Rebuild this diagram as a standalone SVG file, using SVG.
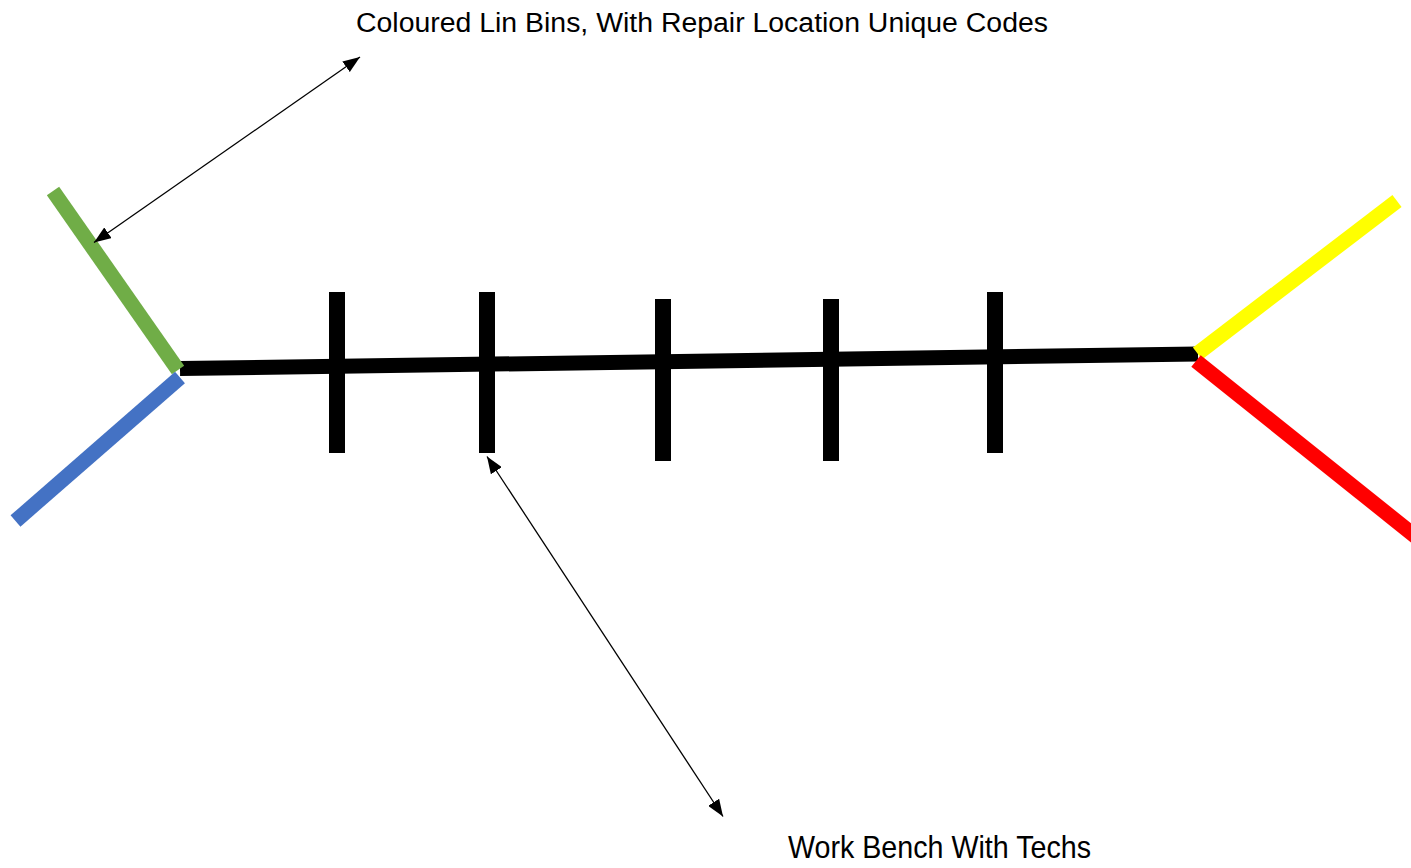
<svg xmlns="http://www.w3.org/2000/svg" width="1411" height="868" viewBox="0 0 1411 868">
  <defs>
    <marker id="ah" viewBox="0 0 10 10" refX="10" refY="5" markerWidth="17" markerHeight="13" markerUnits="userSpaceOnUse" orient="auto-start-reverse" preserveAspectRatio="none">
      <path d="M0,0 L10,5 L0,10 z" fill="#000"/>
    </marker>
    <style>
      .bar { stroke-width: 15; stroke-linecap: butt; fill: none; }
      .tick { stroke: #000; stroke-width: 16; }
      .conn { stroke: #000; stroke-width: 1.3; fill: none; marker-start: url(#ah); marker-end: url(#ah); }
      .lbl { font-family: "Liberation Sans", Arial, sans-serif; fill: #000; }
    </style>
  </defs>
  <rect width="1411" height="868" fill="#fff"/>
  <g id="bench">
    <line class="bar" x1="180" y1="368.6" x2="1198" y2="354" stroke="#000"/>
    <line class="tick" x1="337" y1="292" x2="337" y2="453"/>
    <line class="tick" x1="487" y1="292" x2="487" y2="453"/>
    <line class="tick" x1="663" y1="299" x2="663" y2="461"/>
    <line class="tick" x1="831" y1="299" x2="831" y2="461"/>
    <line class="tick" x1="995" y1="292" x2="995" y2="453"/>
  </g>
  <g id="bin-green"><line class="bar" x1="53" y1="191" x2="178" y2="370" stroke="#70AD47"/></g>
  <g id="bin-blue"><line class="bar" x1="180" y1="377.5" x2="15.5" y2="521" stroke="#4472C4"/></g>
  <g id="bin-yellow"><line class="bar" x1="1397" y1="201" x2="1197.5" y2="353.5" stroke="#FFFF00"/></g>
  <g id="bin-red"><line class="bar" x1="1196" y1="361" x2="1430" y2="548" stroke="#FF0000"/></g>
  <g id="label-bins"><text class="lbl" x="356" y="32" font-size="27" textLength="692" lengthAdjust="spacingAndGlyphs">Coloured Lin Bins, With Repair Location Unique Codes</text></g>
  <g id="label-bench"><text class="lbl" x="788" y="858" font-size="32" textLength="303" lengthAdjust="spacingAndGlyphs">Work Bench With Techs</text></g>
  <g id="connectors">
    <line class="conn" x1="360" y1="57" x2="94" y2="242.5"/>
    <line class="conn" x1="487" y1="456.5" x2="723" y2="816.5"/>
  </g>
</svg>
